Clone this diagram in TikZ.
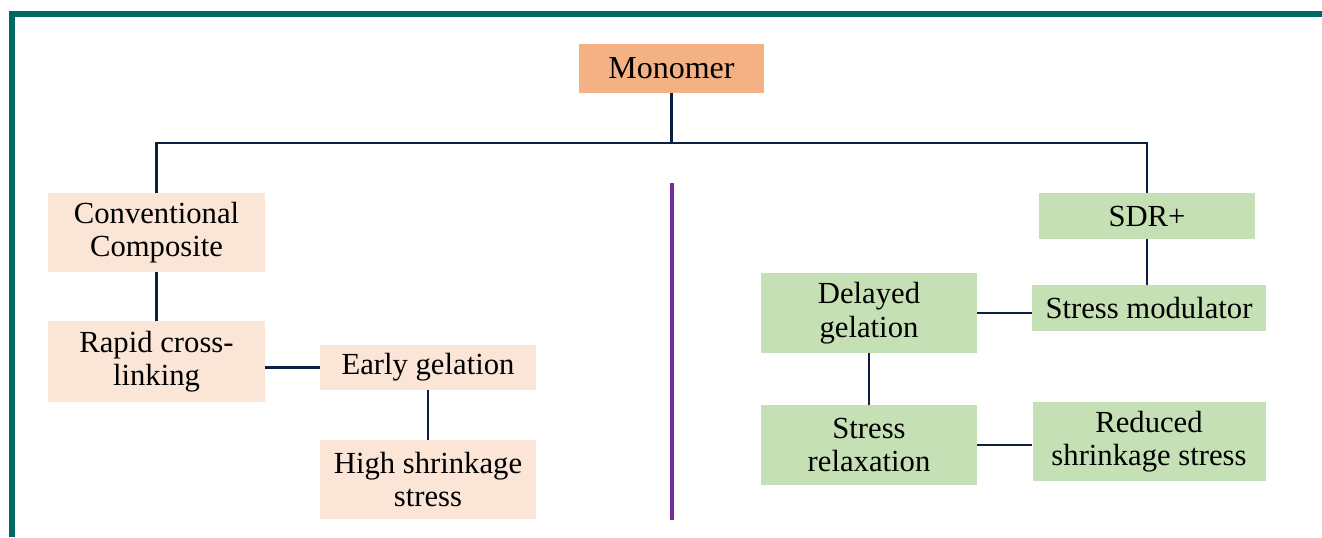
\documentclass[tikz,border=0pt]{standalone}
\usepackage{fontspec}
\setmainfont{Liberation Serif}
\usetikzlibrary{positioning}
\usepackage{xcolor}
\definecolor{frameteal}{RGB}{0,104,100}
\definecolor{linenavy}{RGB}{14,30,66}
\definecolor{divpurple}{RGB}{112,48,160}
\definecolor{monofill}{RGB}{244,177,131}
\definecolor{peachfill}{RGB}{251,229,214}
\definecolor{greenfill}{RGB}{197,224,180}

\begin{document}
\begin{tikzpicture}[
        x=0.75pt, y=-0.75pt,
        box/.style={rectangle, inner sep=0pt, align=center, font=\fontsize{23}{25}\selectfont},
        peachbox/.style={box, fill=peachfill},
        greenbox/.style={box, fill=greenfill},
        link/.style={draw=linenavy, line width=1.8pt},
        divider/.style={draw=divpurple, line width=2.4pt}
    ]
        \useasboundingbox (0,0) rectangle (1322,537);

        % Frame
        \fill[frameteal] (9,11) rectangle (1322,17);
        \fill[frameteal] (9,11) rectangle (15,537);

        % Nodes
        \node (monomer) [box, fill=monofill, minimum width=185*0.75pt, minimum height=49*0.75pt, font=\fontsize{24}{26}\selectfont] at (671.5,68.5) {Monomer};
        \node (conv) [peachbox, minimum width=217*0.75pt, minimum height=79*0.75pt] at (156.5,232.5) {Conventional\\Composite};
        \node (rapid) [peachbox, minimum width=217*0.75pt, minimum height=81*0.75pt] at (156.5,361.5) {Rapid cross-\\linking};
        \node (early) [peachbox, minimum width=216*0.75pt, minimum height=45*0.75pt] at (428,367.5) {Early gelation};
        \node (high) [peachbox, minimum width=216*0.75pt, minimum height=79*0.75pt] at (428,479.5) {High shrinkage\\stress};
        \node (sdr) [greenbox, minimum width=216*0.75pt, minimum height=46*0.75pt] at (1147,216) {SDR+};
        \node (modulator) [greenbox, minimum width=234*0.75pt, minimum height=46*0.75pt] at (1149,308) {Stress modulator};
        \node (delayed) [greenbox, minimum width=216*0.75pt, minimum height=80*0.75pt] at (869,313) {Delayed\\gelation};
        \node (relax) [greenbox, minimum width=216*0.75pt, minimum height=80*0.75pt] at (869,445) {Stress\\relaxation};
        \node (reduced) [greenbox, minimum width=233*0.75pt, minimum height=79*0.75pt] at (1149,441.5) {Reduced\\shrinkage stress};

        \coordinate (bar) at (671.5,143);
        \coordinate (divtop) at (672,183);
        \coordinate (divbot) at (672,520);

        % Lines
        \draw [link] (monomer) -- (bar);
        \draw [link] (conv.north) |- (bar) -| (sdr.north);
        \draw [link] (conv) -- (rapid);
        \draw [link] (rapid.east |- early) -- (early.west);
        \draw [link] (early) -- (high);
        \draw [link] (sdr.south) -- (sdr.south |- modulator.north);
        \draw [link] (delayed.east) -- (delayed.east -| modulator.west);
        \draw [link] (delayed) -- (relax);
        \draw [link] (relax.east) -- (relax.east -| reduced.west);
        \draw [divider] (divtop) -- (divbot);
    \end{tikzpicture}
\end{document}
